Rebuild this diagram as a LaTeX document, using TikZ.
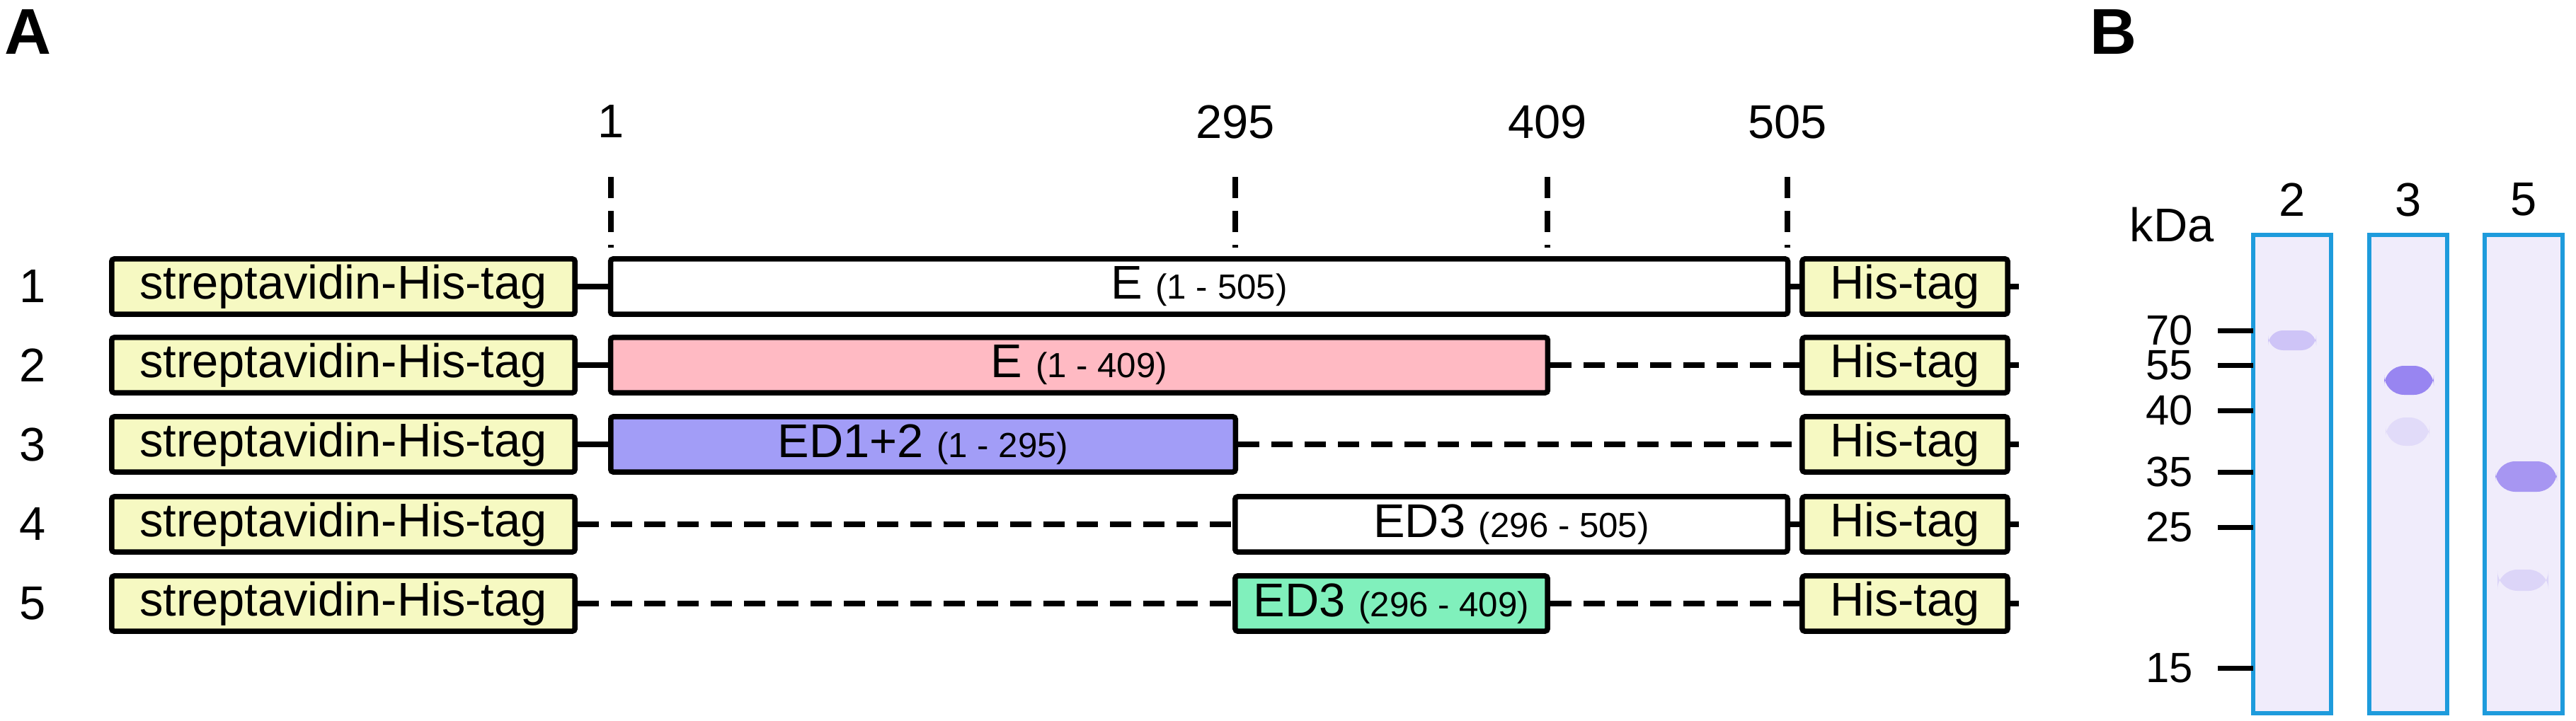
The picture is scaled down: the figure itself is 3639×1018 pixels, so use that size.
\documentclass[tikz,border=0pt]{standalone}
\usepackage{fontspec}
\setmainfont{Liberation Sans}
\definecolor{tagy}{HTML}{F6F9C2}
\definecolor{epink}{HTML}{FFBAC3}
\definecolor{eblue}{HTML}{A29DF7}
\definecolor{egreen}{HTML}{80F0BC}
\definecolor{gelb}{HTML}{1E9BDC}
\definecolor{gelf}{HTML}{F0ECFB}
\definecolor{band}{HTML}{8F7AF0}
\begin{document}
\begin{tikzpicture}[x=0.01cm,y=-0.01cm,
  box/.style={draw=black,line width=0.075cm,rounded corners=1pt,minimum height=0.78cm,inner sep=0,font=\fontsize{19}{19}\selectfont},
  conn/.style={line width=0.075cm},
  dconn/.style={line width=0.075cm,dash pattern=on 0.3cm off 0.17cm},
  lbl/.style={font=\fontsize{19}{19}\selectfont},
  mk/.style={font=\fontsize{17}{17}\selectfont},
  lane/.style={draw=gelb,line width=0.06cm,fill=gelf}]
\useasboundingbox (0,0) rectangle (3639,1018);
\node[font=\bfseries\fontsize{26}{26}\selectfont] (A) at (40,45) {A};
\node[font=\bfseries\fontsize{26}{26}\selectfont] (B) at (2985,45) {B};
% position numbers and ticks
\foreach \n/\x in {1/863,295/1745,409/2186,505/2525}{
  \node[lbl] (p\n) at (\x,172) {\n};
  \coordinate (t\n) at (\x,250);
  \coordinate (b\n) at (\x,350);
  \draw[line width=0.075cm,dash pattern=on 0.3cm off 0.18cm] (t\n) -- (b\n);
}
% rows
\foreach \r/\y in {1/405,2/516,3/628,4/741,5/853}{
  \node[lbl] (n\r) at (46,\y) {\r};
  \node[box,fill=tagy,minimum width=6.54cm] (s\r) at (485,\y) {streptavidin-His-tag};
  \node[box,fill=tagy,minimum width=2.90cm] (h\r) at (2691,\y) {His-tag};
  \coordinate (e\r) at (2852,\y);
  \draw[conn] (h\r.east) -- (e\r);
}
\node[box,fill=white,minimum width=16.62cm] (r1) at (1694,405) {E {\fontsize{14}{14}\selectfont(1 - 505)}};
\draw[conn] (s1.east) -- (r1.west);
\draw[conn] (r1.east) -- (h1.west);
\node[box,fill=epink,minimum width=13.23cm] (r2) at (1524.5,516) {E {\fontsize{14}{14}\selectfont(1 - 409)}};
\draw[conn] (s2.east) -- (r2.west);
\draw[dconn] (r2.east) -- (h2.west);
\node[box,fill=eblue,minimum width=8.82cm] (r3) at (1304,628) {ED1+2 {\fontsize{14}{14}\selectfont(1 - 295)}};
\draw[conn] (s3.east) -- (r3.west);
\draw[dconn] (r3.east) -- (h3.west);
\node[box,fill=white,minimum width=7.80cm] (r4) at (2135,741) {ED3 {\fontsize{14}{14}\selectfont(296 - 505)}};
\draw[dconn] (s4.east) -- (r4.west);
\draw[conn] (r4.east) -- (h4.west);
\node[box,fill=egreen,minimum width=4.41cm] (r5) at (1965.5,853) {ED3 {\fontsize{14}{14}\selectfont(296 - 409)}};
\draw[dconn] (s5.east) -- (r5.west);
\draw[dconn] (r5.east) -- (h5.west);
% gel
\node[lbl] (kda) at (3068,318) {kDa};
\foreach \l/\x in {2/3238,3/3402,5/3565}{
  \node[lbl] (ln\l) at (\x,282) {\l};
  \node[lane,minimum width=1.1cm,minimum height=6.76cm,inner sep=0] (g\l) at (\x,670) {};
}
\foreach \m/\y in {70/467,55/516,40/580,35/667,25/745,15/944}{
  \coordinate (m\m) at (3133,\y);
  \draw[line width=0.07cm] (m\m) -- (3183,\y);
  \node[mk,anchor=east] (k\m) at (3110,\y) {\m};
}
\fill[band,opacity=0.35,rounded corners=6pt] (3204,467) rectangle (3272,495);
\fill[band,opacity=0.9,rounded corners=8pt] (3368,517) rectangle (3438,558);
\fill[band,opacity=0.15,rounded corners=8pt] (3370,590) rectangle (3432,630);
\fill[band,opacity=0.75,rounded corners=8pt] (3525,652) rectangle (3612,695);
\fill[band,opacity=0.2,rounded corners=8pt] (3528,805) rectangle (3600,835);
\end{tikzpicture}
\end{document}
